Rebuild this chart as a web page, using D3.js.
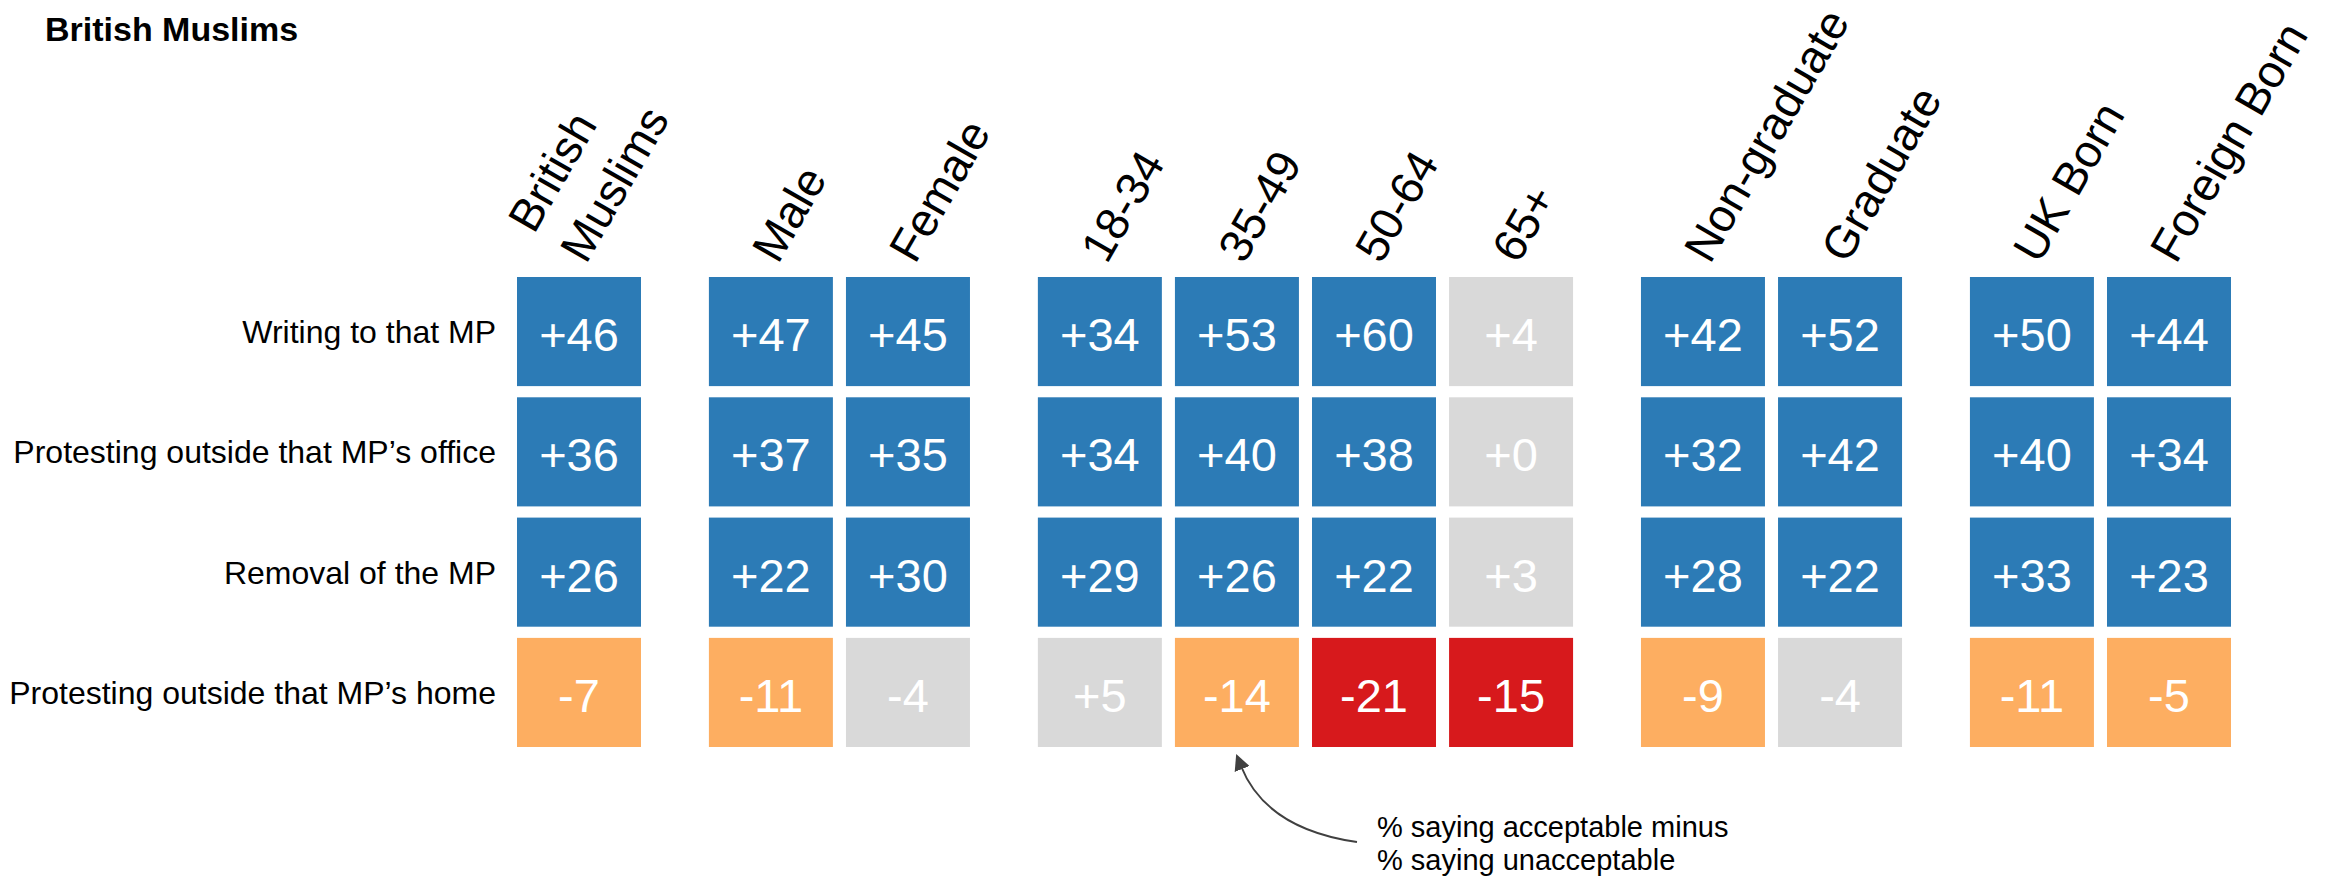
<!DOCTYPE html>
<html>
<head>
<meta charset="utf-8">
<script src="https://cdn.jsdelivr.net/npm/d3@7"></script>
<style>
  html, body { margin: 0; padding: 0; background: #fff; }
  svg text { font-family: "Liberation Sans", Arial, Helvetica, sans-serif; }
</style>
</head>
<body>
<svg id="chart" width="2336" height="876"></svg>
<script>
// ---- data ----
const title = "British Muslims";
const columns = ["British Muslims", "Male", "Female", "18-34", "35-49", "50-64", "65+", "Non-graduate", "Graduate", "UK Born", "Foreign Born"];
const columnLines = [["British", "Muslims"], ["Male"], ["Female"], ["18-34"], ["35-49"], ["50-64"], ["65+"], ["Non-graduate"], ["Graduate"], ["UK Born"], ["Foreign Born"]];
const columnGroups = [0, 1, 1, 2, 2, 2, 2, 3, 3, 4, 4];
const rows = ["Writing to that MP", "Protesting outside that MP’s office", "Removal of the MP", "Protesting outside that MP’s home"];
const writingValues  = [46, 47, 45, 34, 53, 60, 4, 42, 52, 50, 44];
const officeValues   = [36, 37, 35, 34, 40, 38, 0, 32, 42, 40, 34];
const removalValues  = [26, 22, 30, 29, 26, 22, 3, 28, 22, 33, 23];
const homeValues     = [-7, -11, -4, 5, -14, -21, -15, -9, -4, -11, -5];
// cell classes: pos = clearly acceptable, ns = not significant, neg = unacceptable, strong = strongly unacceptable
const writingClass  = ["pos","pos","pos","pos","pos","pos","ns","pos","pos","pos","pos"];
const officeClass   = ["pos","pos","pos","pos","pos","pos","ns","pos","pos","pos","pos"];
const removalClass  = ["pos","pos","pos","pos","pos","pos","ns","pos","pos","pos","pos"];
const homeClass     = ["neg","neg","ns","ns","neg","strong","strong","neg","ns","neg","neg"];
const annotationLines = ["% saying acceptable minus", "% saying unacceptable"];

const seriesValues = [writingValues, officeValues, removalValues, homeValues];
const seriesClasses = [writingClass, officeClass, removalClass, homeClass];

// ---- layout ----
const svg = d3.select("#chart");
const groupGap = 0.4;
const slots = columns.map((c, i) => i + columnGroups[i] * groupGap);
const cellW = 124;
const x = d3.scaleLinear().domain([0, d3.max(slots)]).range([517, 2107]);
const y = d3.scaleBand().domain(rows).range([277, 747]).paddingInner(0.093).paddingOuter(0);
const color = d3.scaleOrdinal()
  .domain(["pos", "ns", "neg", "strong"])
  .range(["#2c7bb6", "#d9d9d9", "#fdae61", "#d7191c"]);
const fmt = v => (v >= 0 ? "+" + v : "-" + Math.abs(v));

// title
svg.append("text")
  .attr("x", 45).attr("y", 41)
  .attr("font-size", 34).attr("font-weight", "bold")
  .attr("fill", "#000")
  .text(title);

// row labels
svg.append("g").selectAll("text")
  .data(rows)
  .join("text")
  .attr("x", 496)
  .attr("y", d => y(d) + y.bandwidth() / 2 + 11.5)
  .attr("text-anchor", "end")
  .attr("font-size", 32)
  .attr("fill", "#000")
  .text(d => d);

// column headers (rotated)
const lineH = 60;
const headers = svg.append("g").selectAll("text")
  .data(columns.map((c, i) => ({ c, i })))
  .join("text")
  .attr("font-size", 46)
  .attr("fill", "#000")
  .attr("transform", d => `translate(${x(slots[d.i]) + cellW / 2 + 7},265) rotate(-60)`);
headers.each(function (d) {
  const lines = columnLines[d.i];
  const t = d3.select(this);
  lines.forEach((ln, k) => {
    t.append("tspan")
      .attr("x", 0)
      .attr("y", -(lines.length - 1 - k) * lineH)
      .text(ln);
  });
});

// cells
const cells = [];
rows.forEach((r, ri) => {
  columns.forEach((c, ci) => {
    cells.push({ r, c, ci, v: seriesValues[ri][ci], cls: seriesClasses[ri][ci] });
  });
});

const cellG = svg.append("g").selectAll("g")
  .data(cells)
  .join("g")
  .attr("transform", d => `translate(${x(slots[d.ci])},${y(d.r)})`);

cellG.append("rect")
  .attr("width", cellW)
  .attr("height", y.bandwidth())
  .attr("fill", d => color(d.cls));

cellG.append("text")
  .attr("x", cellW / 2)
  .attr("y", y.bandwidth() / 2 + 19.5)
  .attr("text-anchor", "middle")
  .attr("font-size", 47)
  .attr("fill", "#fff")
  .text(d => fmt(d.v));

// annotation
const target = cells.find(d => d.r === rows[3] && d.c === "35-49");
const tipX = x(slots[target.ci]) + cellW / 2 + 5;
const tipY = y(target.r) + y.bandwidth() + 5;
const startX = 1357, startY = 842;

svg.append("defs").append("marker")
  .attr("id", "arrow")
  .attr("viewBox", "0 0 10 10")
  .attr("refX", 2).attr("refY", 5)
  .attr("markerWidth", 8).attr("markerHeight", 8)
  .attr("markerUnits", "strokeWidth")
  .attr("orient", "auto")
  .append("path")
  .attr("d", "M0,0 L10,5 L0,10 Z")
  .attr("fill", "#404040");

const path = d3.path();
path.moveTo(startX, startY);
path.quadraticCurveTo(1266, 829, tipX - 1, tipY + 14);
svg.append("path")
  .attr("d", path.toString())
  .attr("fill", "none")
  .attr("stroke", "#404040")
  .attr("stroke-width", 2)
  .attr("marker-end", "url(#arrow)");

svg.append("g").selectAll("text")
  .data(annotationLines)
  .join("text")
  .attr("x", 1377)
  .attr("y", (d, i) => 837 + i * 33)
  .attr("font-size", 29)
  .attr("fill", "#000")
  .text(d => d);
</script>
</body>
</html>
